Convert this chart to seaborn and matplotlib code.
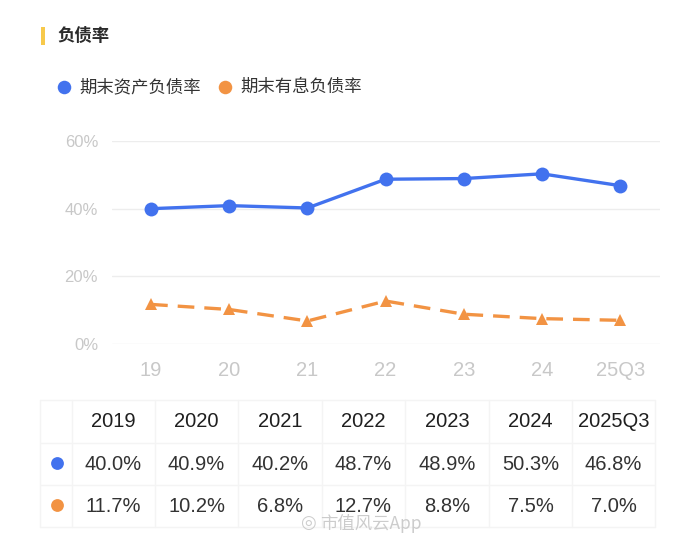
import matplotlib
matplotlib.use("Agg")
import matplotlib.pyplot as plt
import seaborn as sns
import pandas as pd
import numpy as np

# data
short_labels = ["19", "20", "21", "22", "23", "24", "25Q3"]
year_labels = ["2019", "2020", "2021", "2022", "2023", "2024", "2025Q3"]
asset_ratio = [40.0, 40.9, 40.2, 48.7, 48.9, 50.3, 46.8]
interest_ratio = [11.7, 10.2, 6.8, 12.7, 8.8, 7.5, 7.0]
series_names = ["期末资产负债率", "期末有息负债率"]
y_ticks = [0, 20, 40, 60]

blue = "#4272EE"
orange = "#F29343"
grid_col = "#EDEDED"
tick_col = "#C8C8C8"
num_font = ["Liberation Sans", "DejaVu Sans"]

sns.set_theme(style="white")
plt.rcParams["font.family"] = ["Noto Sans CJK SC", "DejaVu Sans"]

df = pd.DataFrame({
    "pos": np.arange(len(short_labels)),
    "asset": asset_ratio,
    "interest": interest_ratio,
})

fig = plt.figure(figsize=(7, 5.39), dpi=100)

# main line chart
W, H = 700, 539
ax = fig.add_axes([112 / W, 1 - 344 / H, 548 / W, (344 - 141) / H])
sns.lineplot(data=df, x="pos", y="asset", ax=ax, color=blue, lw=2.4,
             marker="o", markersize=10, markeredgewidth=0, clip_on=False)
sns.lineplot(data=df, x="pos", y="interest", ax=ax, color=orange, lw=2.4,
             marker="^", markersize=9, markeredgewidth=0, clip_on=False)
ax.lines[1].set_dashes([5, 3])
ax.set_xlim(-0.50, 6.51)
ax.set_ylim(0, 60)
ax.set_yticks(y_ticks)
ax.set_yticklabels([f"{v}%" for v in y_ticks], family=num_font, fontsize=12)
ax.set_xticks(df["pos"])
ax.set_xticklabels(short_labels, family=num_font, fontsize=14.5)
ax.tick_params(axis="both", colors=tick_col, length=0)
ax.tick_params(axis="x", pad=12)
ax.tick_params(axis="y", pad=10)
for lab in ax.get_xticklabels() + ax.get_yticklabels():
    lab.set_color(tick_col)
ax.grid(axis="y", color=grid_col, lw=1)
ax.set_axisbelow(True)
sns.despine(ax=ax, left=True, bottom=True)
ax.set_xlabel("")
ax.set_ylabel("")

# overlay in pixel coords for title, legend and table
ov = fig.add_axes([0, 0, 1, 1], zorder=-1)
ov.set_xlim(0, W)
ov.set_ylim(H, 0)
ov.axis("off")

ov.add_patch(plt.Rectangle((41, 27), 4, 18, color="#F7C94B", lw=0))
ov.text(57, 36, "负债率", fontsize=12.5, fontweight="bold", color="#2B2B2B", va="center")

ov.scatter([64], [87], s=95, color=blue, lw=0)
ov.text(79, 87, series_names[0], fontsize=12.5, color="#333333", va="center")
ov.scatter([225], [87], s=95, color=orange, lw=0)
ov.text(240, 87, series_names[1], fontsize=12.5, color="#333333", va="center")

# table
col_edges = [40, 72, 155, 238, 322, 405, 489, 572, 655]
row_edges = [400, 443, 485, 527]
line_col = "#F4F4F4"
for yv in row_edges:
    ov.plot([col_edges[0], col_edges[-1]], [yv, yv], color=line_col, lw=1)
for xv in col_edges:
    ov.plot([xv, xv], [row_edges[0], row_edges[-1]], color=line_col, lw=1)

centers = [(col_edges[i] + col_edges[i + 1]) / 2 for i in range(1, len(col_edges) - 1)]
row_mid = [(row_edges[i] + row_edges[i + 1]) / 2 for i in range(3)]
for cx, lab in zip(centers, year_labels):
    ov.text(cx, row_mid[0], lab, fontsize=14.5, color="#1F1F1F", ha="center",
            va="center", family=num_font)
for cx, a, b in zip(centers, asset_ratio, interest_ratio):
    ov.text(cx, row_mid[1], f"{a:.1f}%", fontsize=14.5, color="#333333", ha="center",
            va="center", family=num_font)
    ov.text(cx, row_mid[2], f"{b:.1f}%", fontsize=14.5, color="#333333", ha="center",
            va="center", family=num_font)
ov.scatter([57], [row_mid[1] - 1], s=85, color=blue, lw=0)
ov.scatter([57], [row_mid[2] - 1], s=85, color=orange, lw=0)

# watermark
ov.text(300, 523, "◎", fontsize=13, color="#C4C4C4", alpha=0.85,
        ha="left", va="center", zorder=5, family=["DejaVu Sans"])
ov.text(320, 523, "市值风云App", fontsize=12.5, color="#C4C4C4", alpha=0.85,
        ha="left", va="center", zorder=5,
        family=["Noto Sans CJK SC", "DejaVu Sans"])

fig.savefig("out.png", dpi=100)
